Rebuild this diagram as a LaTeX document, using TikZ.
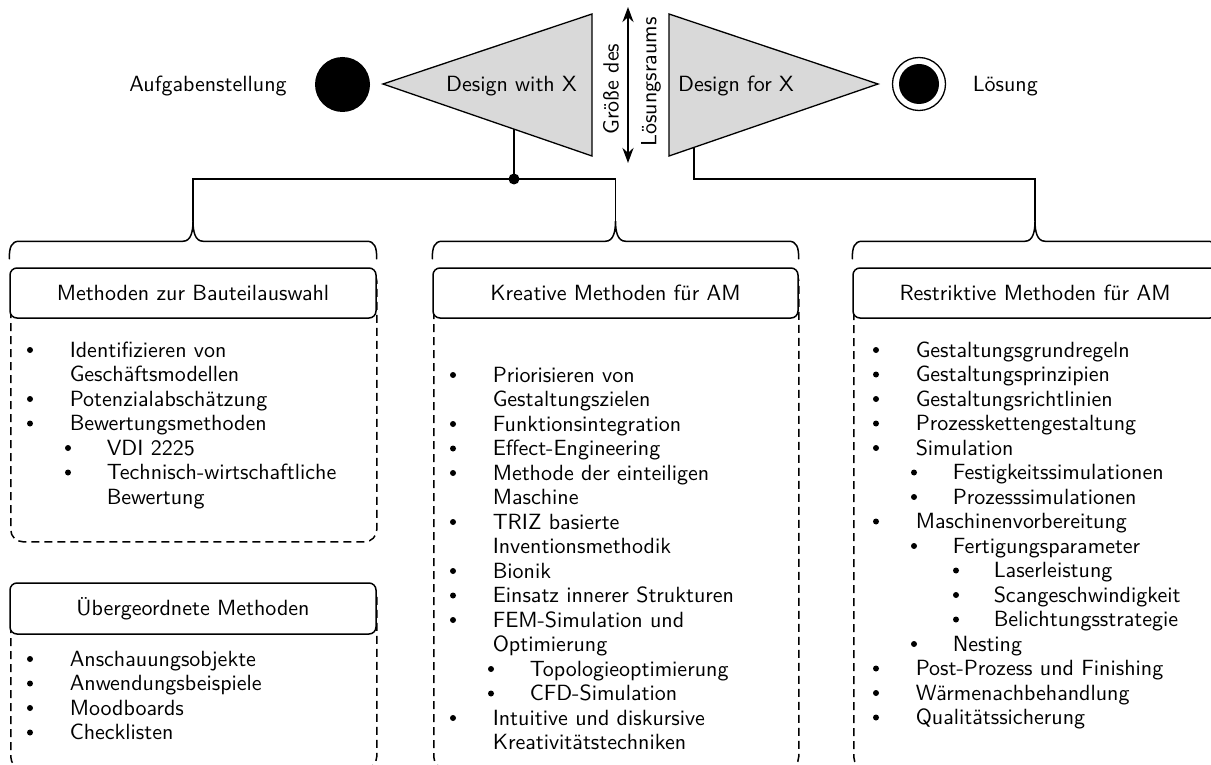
\documentclass[tikz,border=0pt]{standalone}
\usepackage{fontspec}
\newfontfamily\lmsf{lmsans10-regular}[Extension=.otf]
\usetikzlibrary{arrows.meta,calc}

% one bulleted list: #1 name prefix, #2 left x, #3 first baseline, #4 level/bullet/text items
\newcommand\methodlist[4]{%
  \foreach \lv/\bu/\tx [count=\k from 0] in {#4} {
    \pgfmathsetmacro\bx{#2+(\lv==1)*20+(\lv==2)*58+(\lv==3)*100}
    \pgfmathsetmacro\tX{#2+(\lv==1)*59+(\lv==2)*96+(\lv==3)*137}
    \pgfmathsetmacro\yy{#3+\k*24.5}
    \node[itemtext] (#1\k) at (\tX,\yy) {\tx};
    \ifnum\bu=1 \node[bulletdot] (#1b\k) at (\bx,\yy-7) {};\fi
  }}

% curly brace over the top edge of a header box, tip above its middle
\newcommand\groupbrace[1]{%
  \draw let \p1=(#1.north west), \p2=(#1.north), \p3=(#1.north east) in
    (\x1,\y1+8pt) .. controls (\x1,\y1+20pt) and (\x1+2pt,\y1+26pt) .. (\x1+10pt,\y1+26pt)
    -- (\x2-10pt,\y1+26pt) .. controls (\x2-2pt,\y1+26pt) and (\x2,\y1+36pt) .. (\x2,\y1+46pt)
    .. controls (\x2,\y1+36pt) and (\x2+2pt,\y1+26pt) .. (\x2+10pt,\y1+26pt)
    -- (\x3-10pt,\y1+26pt) .. controls (\x3-2pt,\y1+26pt) and (\x3,\y1+20pt) .. (\x3,\y1+8pt);
}

\begin{document}
\begin{tikzpicture}[x=1pt,y=-1pt,
  font=\lmsf\fontsize{22}{24.5}\selectfont,
  line width=1.5pt,
  lbl/.style={inner sep=0pt, anchor=base},
  itemtext/.style={inner sep=0pt, anchor=base west},
  bulletdot/.style={circle, fill, inner sep=0pt, minimum size=6pt},
  headbox/.style={draw, fill=white, rounded corners=7pt, minimum width=#1,
    minimum height=50pt, inner sep=0pt},
  bodybox/.style 2 args={draw, dashed, dash pattern=on 8pt off 5pt,
    rounded corners=12pt, minimum width=#1, minimum height=#2,
    anchor=north west, inner sep=0pt},
  tri/.style={draw, fill=black!15, line width=1.3pt, line join=miter},
]
\useasboundingbox (0,0) rectangle (1211,765);
\clip (0,0) rectangle (1211,765);

% ---- process line at the top
\node[lbl] (task) at (208,92) {Aufgabenstellung};
\node[circle, fill, inner sep=0pt, minimum size=55pt] (start) at (342.5,84.5) {};

\coordinate (w1) at (383,84);
\coordinate (w2) at (592,14);
\coordinate (w3) at (592,156);
\draw[tri] (w1) -- (w2) -- (w3) -- cycle;
\node[lbl] (dwx) at (511.5,92) {Design with X};

\coordinate (f1) at (669,14);
\coordinate (f2) at (669,156);
\coordinate (f3) at (878,84);
\draw[tri] (f1) -- (f3) -- (f2) -- cycle;
\node[lbl] (dfx) at (736,92) {Design for X};

\coordinate (ar1) at (628,7);
\coordinate (ar2) at (628,163);
\draw[line width=2.8pt, {Stealth[length=15pt,width=11pt]}-{Stealth[length=15pt,width=11pt]}] (ar1) -- (ar2);
\node[rotate=90, inner sep=0pt] (size1) at (611,89) {Größe des};
\node[rotate=90, inner sep=0pt] (size2) at (651,82) {Lösungsraums};

\node[circle, draw, line width=1.3pt, inner sep=0pt, minimum size=53pt] (goal) at (919,84) {};
\node[circle, fill, inner sep=0pt, minimum size=40pt] (goalin) at (goal) {};
\node[lbl, anchor=base west] (sol) at (972,92) {Lösung};

% ---- method groups
\node[bodybox={366pt}{273pt}] (b1) at (10,268) {};
\node[headbox=366pt] (h1) at (193,293) {Methoden zur Bauteilauswahl};

\node[bodybox={365pt}{500pt}] (b2) at (433,268) {};
\node[headbox=365pt] (h2) at (615.5,293) {Kreative Methoden für AM};

\node[bodybox={364pt}{500pt}] (b3) at (853,268) {};
\node[headbox=364pt] (h3) at (1035,293) {Restriktive Methoden für AM};

\node[bodybox={366pt}{185pt}] (b4) at (10,583) {};
\node[headbox=366pt, minimum height=51pt] (h4) at (193,608.5) {Übergeordnete Methoden};

% ---- braces and connectors
\groupbrace{h1}
\groupbrace{h2}
\groupbrace{h3}
\coordinate (t1) at ($(h1.north)+(0,-46)$);
\coordinate (t2) at ($(h2.north)+(0,-46)$);
\coordinate (t3) at ($(h3.north)+(0,-46)$);

\coordinate (wb) at ($(w1)!0.6268!(w3)$);
\coordinate (J) at (wb |- 0,179);
\draw (wb) -- (J);
\draw (t1) |- (J) -| (t2);
\fill (J) circle (5.5pt);

\coordinate (fb) at ($(f2)!0.1196!(f3)$);
\coordinate (K) at (fb |- 0,179);
\draw (fb) -- (K) -| (t3);

% ---- lists
\methodlist{L}{10}{357}{1/1/Identifizieren von, 1/0/Geschäftsmodellen,
  1/1/Potenzialabschätzung, 1/1/Bewertungsmethoden, 2/1/VDI 2225,
  2/1/Technisch-wirtschaftliche, 2/0/Bewertung}

\methodlist{M}{433}{382}{1/1/Priorisieren von, 1/0/Gestaltungszielen,
  1/1/Funktionsintegration, 1/1/Effect-Engineering,
  1/1/Methode der einteiligen, 1/0/Maschine, 1/1/TRIZ basierte,
  1/0/Inventionsmethodik, 1/1/Bionik, 1/1/Einsatz innerer Strukturen,
  1/1/FEM-Simulation und, 1/0/Optimierung, 2/1/Topologieoptimierung,
  2/1/CFD-Simulation, 1/1/Intuitive und diskursive, 1/0/Kreativitätstechniken}

\methodlist{R}{856}{357}{1/1/Gestaltungsgrundregeln, 1/1/Gestaltungsprinzipien,
  1/1/Gestaltungsrichtlinien, 1/1/Prozesskettengestaltung, 1/1/Simulation,
  2/1/Festigkeitssimulationen, 2/1/Prozesssimulationen,
  1/1/Maschinenvorbereitung, 2/1/Fertigungsparameter, 3/1/Laserleistung,
  3/1/Scangeschwindigkeit, 3/1/Belichtungsstrategie, 2/1/Nesting,
  1/1/Post-Prozess und Finishing, 1/1/Wärmenachbehandlung,
  1/1/Qualitätssicherung}

\methodlist{U}{10}{666}{1/1/Anschauungsobjekte, 1/1/Anwendungsbeispiele,
  1/1/Moodboards, 1/1/Checklisten}
\end{tikzpicture}
\end{document}
